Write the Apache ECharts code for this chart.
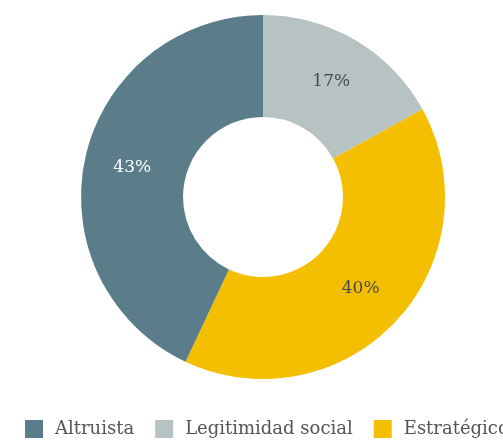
<!DOCTYPE html>
<html>
<head>
<meta charset="utf-8">
<script src="https://cdn.jsdelivr.net/npm/echarts@6/dist/echarts.min.js"></script>
<style>
  html, body { margin: 0; padding: 0; background: #fff; }
  #chart { width: 503px; height: 440px; }
</style>
</head>
<body>
<div id="chart"></div>
<script>
var categories = ["Altruista", "Legitimidad social", "Estratégico"];
var values = [43, 17, 40];
var colors = ["#5a7d89", "#b7c3c2", "#f3bf00"];
var labelColors = ["#ffffff", "#4a4a4a", "#4a4a4a"];

var chart = echarts.init(document.getElementById("chart"));

// slice order clockwise from the top: Legitimidad, Estrategico, Altruista
var order = [1, 2, 0];
var pieData = order.map(function (i) {
	return {
		name: categories[i],
		value: values[i],
		itemStyle: { color: colors[i] },
		label: { color: labelColors[i] }
	};
});

chart.setOption({
	animation: false,
	legend: {
		data: categories,
		left: 20,
		top: 415,
		width: 700,
		itemWidth: 18,
		itemHeight: 18,
		itemGap: 21,
		icon: "rect",
		textStyle: {
			fontFamily: "DejaVu Serif",
			fontSize: 18,
			color: "#555",
			padding: [4, 0, 0, 7]
		}
	},
	series: [
		{
			type: "pie",
			center: [263, 197],
			radius: [80, 182],
			startAngle: 90,
			clockwise: true,
			data: pieData,
			label: {
				position: "inside",
				formatter: "{c}%",
				fontFamily: "DejaVu Serif",
				fontSize: 17
			},
			labelLine: { show: false },
			emphasis: { disabled: true }
		}
	]
});
</script>
</body>
</html>
